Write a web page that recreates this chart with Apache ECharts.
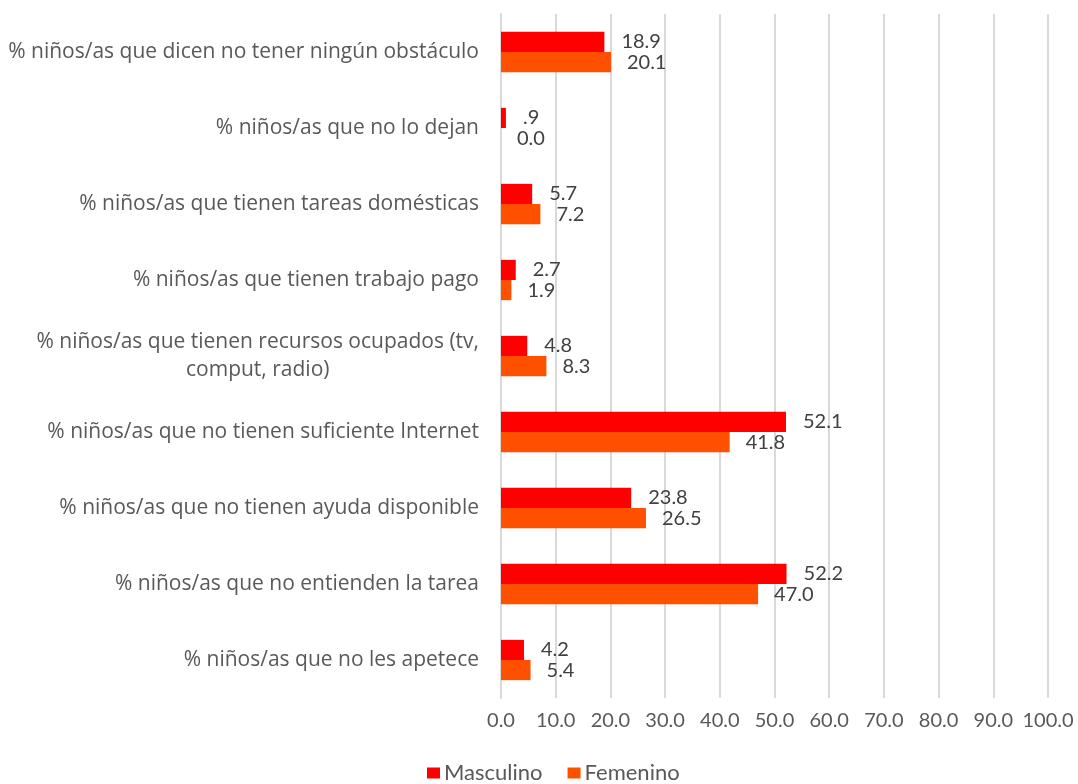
<!DOCTYPE html>
<html><head><meta charset="utf-8">
<script src="https://cdn.jsdelivr.net/npm/echarts@6/dist/echarts.min.js"></script>
<style>html,body{margin:0;padding:0;background:#fff}#c{width:1078px;height:784px}</style>
</head><body><div id="c"></div>
<script>
const categories = [
  "% niños/as que dicen no tener ningún obstáculo",
  "% niños/as que no lo dejan",
  "% niños/as que tienen tareas domésticas",
  "% niños/as que tienen trabajo pago",
  "% niños/as que tienen recursos ocupados (tv,\ncomput, radio)",
  "% niños/as que no tienen suficiente Internet",
  "% niños/as que no tienen ayuda disponible",
  "% niños/as que no entienden la tarea",
  "% niños/as que no les apetece"
];
const masculino = [18.9, 0.9, 5.7, 2.7, 4.8, 52.1, 23.8, 52.2, 4.2];
const femenino = [20.1, 0.0, 7.2, 1.9, 8.3, 41.8, 26.5, 47.0, 5.4];
const seriesNames = ["Masculino", "Femenino"];

const FONT = "Lato";
const CATFONT = "Open Sans";
const CATSIZE = 21;
const fmtVal = v => { let s = v.toFixed(1); if (v > 0 && v < 1) s = s.slice(1); return s; };

const cv = document.createElement('canvas').getContext('2d');
cv.font = CATSIZE + 'px "' + CATFONT + '"';

const chart = echarts.init(document.getElementById('c'));
chart.setOption({
  animation: false,
  textStyle: { fontFamily: FONT },
  grid: { left: 501, right: 30, top: 14, bottom: 86, containLabel: false },
  legend: {
    left: 427, top: 762, padding: 0, itemWidth: 13, itemHeight: 11, itemGap: 25,
    icon: 'rect',
    textStyle: { fontSize: 22, color: '#595959', fontFamily: FONT, padding: [0, 0, 0, -1] },
    data: seriesNames
  },
  xAxis: {
    type: 'value', min: 0, max: 100, interval: 10,
    axisLine: { show: false }, axisTick: { show: false },
    splitLine: { lineStyle: { color: '#d9d9d9', width: 2 } },
    axisLabel: { formatter: v => v.toFixed(1), fontSize: 20, color: '#595959', margin: 13, fontFamily: FONT }
  },
  yAxis: {
    type: 'category', data: categories, inverse: true,
    axisLine: { lineStyle: { color: '#d9d9d9', width: 2 } },
    axisTick: { show: false },
    axisLabel: {
      fontSize: CATSIZE, color: '#595959', margin: 22, fontFamily: CATFONT, lineHeight: 28,
      formatter: function (v) {
        const parts = v.split('\n');
        if (parts.length === 1) return v;
        return parts.map(p => '{c|' + p + '}').join('\n');
      },
      rich: { c: { fontSize: CATSIZE, color: '#595959', fontFamily: CATFONT, lineHeight: 28, align: 'center',
        width: cv.measureText("% niños/as que tienen recursos ocupados (tv,").width } }
    }
  },
  series: [
    { name: seriesNames[0], type: 'bar', data: masculino, barCategoryGap: '47%', barGap: '0%',
      itemStyle: { color: '#ff0000' },
      label: { show: true, position: 'right', distance: 17, formatter: p => fmtVal(p.value), fontSize: 20, color: '#404040', fontFamily: FONT } },
    { name: seriesNames[1], type: 'bar', data: femenino, barCategoryGap: '47%', barGap: '0%',
      itemStyle: { color: '#ff5000' },
      label: { show: true, position: 'right', distance: 16, formatter: p => fmtVal(p.value), fontSize: 20, color: '#404040', fontFamily: FONT } }
  ]
});
</script></body></html>
